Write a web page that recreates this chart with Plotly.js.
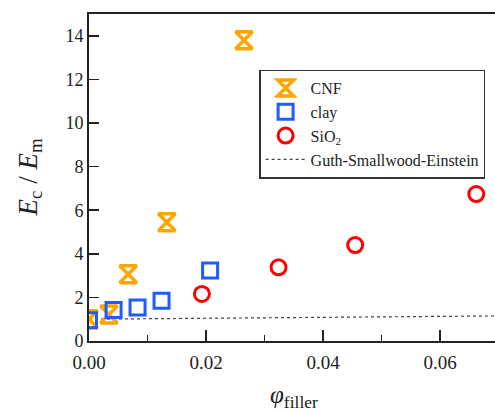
<!DOCTYPE html>
<html>
<head>
<meta charset="utf-8">
<script src="https://cdn.plot.ly/plotly-3.0.1.min.js"></script>
<style>html,body{margin:0;padding:0;background:#fff;}#chart{width:495px;height:412px;}</style>
</head>
<body>
<div id="chart"></div>
<script>
// Data
const cnfPhi = [0.0, 0.0034, 0.0067, 0.0133, 0.0265];
const cnfE   = [1.0, 1.22, 3.06, 5.45, 13.8];

const clayPhi = [0.0, 0.0042, 0.0083, 0.0124, 0.0207];
const clayE   = [0.95, 1.42, 1.54, 1.85, 3.23];

const sioPhi = [0.0193, 0.0324, 0.0455, 0.0662];
const sioE   = [2.16, 3.38, 4.40, 6.74];

const gsePhi = [0.0, 0.01, 0.02, 0.03, 0.04, 0.05, 0.06, 0.07];
const gseE   = [1.0, 1.02, 1.05, 1.07, 1.09, 1.11, 1.13, 1.15];

const xTicks = [0, 0.02, 0.04, 0.06];
const xTickText = ['0.00', '0.02', '0.04', '0.06'];
const yTicks = [0, 2, 4, 6, 8, 10, 12, 14];

const xTitle = '<i>φ</i><sub>filler</sub>';
const yTitle = '<i>E</i><sub>c</sub> / <i>E</i><sub>m</sub>';

const serif = '"Liberation Serif", "Times New Roman", serif';

const traces = [
  {
    x: gsePhi, y: gseE, mode: 'lines', name: 'Guth-Smallwood-Einstein',
    line: {color: '#444444', width: 1.2, dash: 'dot'}, legendrank: 4
  },
  {
    x: cnfPhi, y: cnfE, mode: 'markers', name: 'CNF',
    marker: {symbol: 'hourglass-open', size: 17, color: '#FFA500', line: {width: 3.5, color: '#FFA500'}},
    legendrank: 1
  },
  {
    x: clayPhi, y: clayE, mode: 'markers', name: 'clay',
    marker: {symbol: 'square-open', size: 15, color: '#1f5cff', line: {width: 3, color: '#1f5cff'}},
    legendrank: 2
  },
  {
    x: sioPhi, y: sioE, mode: 'markers', name: 'SiO<sub>2</sub>',
    marker: {symbol: 'circle-open', size: 15, color: '#ff0000', line: {width: 3, color: '#ff0000'}},
    legendrank: 3
  }
];

const layout = {
  width: 495, height: 412,
  margin: {l: 89, r: 0, t: 14, b: 71},
  paper_bgcolor: '#ffffff', plot_bgcolor: '#ffffff',
  font: {family: serif, color: '#222222'},
  showlegend: true,
  legend: {
    x: 0.419, y: 0.83, xanchor: 'left', yanchor: 'top',
    bgcolor: '#ffffff', bordercolor: '#333333', borderwidth: 1.5,
    font: {family: serif, size: 16, color: '#222222'},
    tracegroupgap: 0, itemsizing: 'trace', itemwidth: 40
  },
  xaxis: {
    range: [0, 0.0694], tickvals: xTicks, ticktext: xTickText,
    ticks: 'inside', ticklen: 11, tickwidth: 1.5, tickcolor: '#222',
    minor: {dtick: 0.01, ticks: 'inside', ticklen: 6, tickwidth: 1.5, tickcolor: '#222'},
    showline: true, linecolor: '#222', linewidth: 2, mirror: true,
    showgrid: false, zeroline: false,
    ticklabelstandoff: 3,
    tickfont: {family: serif, size: 19, color: '#222'},
    automargin: false
  },
  yaxis: {
    range: [0, 15], tickvals: yTicks,
    ticks: 'inside', ticklen: 10, tickwidth: 1.5, tickcolor: '#222',
    showline: true, linecolor: '#222', linewidth: 2,
    showgrid: false, zeroline: false,
    tickfont: {family: serif, size: 18, color: '#222'},
    automargin: false
  },
  annotations: [
    {
      text: xTitle, xref: 'paper', yref: 'paper', x: 0.504, y: 0,
      xanchor: 'center', yanchor: 'middle', yshift: -55, showarrow: false,
      font: {family: serif, size: 25, color: '#222'}
    },
    {
      text: yTitle, xref: 'paper', yref: 'paper', x: 0, y: 0.5,
      xanchor: 'center', yanchor: 'middle', xshift: -60, textangle: -90, showarrow: false,
      font: {family: serif, size: 27, color: '#222'}
    }
  ]
};

Plotly.newPlot('chart', traces, layout, {displayModeBar: false, staticPlot: true});
</script>
</body>
</html>
